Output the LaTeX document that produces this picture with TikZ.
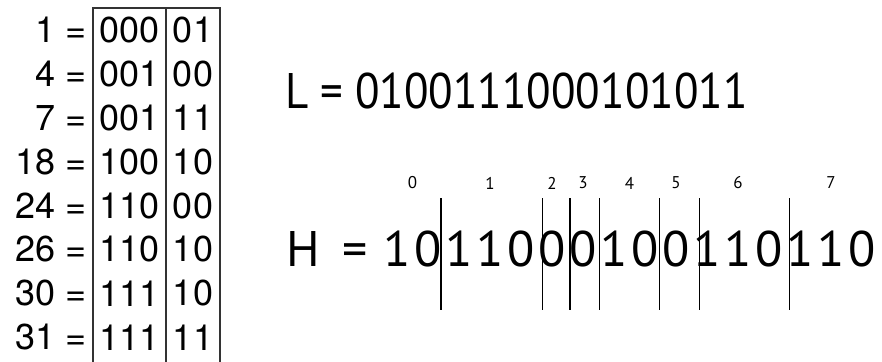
\documentclass[tikz,border=0pt]{standalone}
\usepackage{fontspec}
\setmainfont{TeX Gyre Heros}
\newfontfamily\bitfont{PT Sans}
\usetikzlibrary{calc}

\tikzset{
    tabtext/.style={font=\fontsize{36}{36}\selectfont, inner sep=0pt},
    bittext/.style={font=\bitfont\fontsize{50}{50}\selectfont, inner sep=0pt},
    idxtext/.style={font=\bitfont\fontsize{17}{17}\selectfont, inner sep=0pt},
    boxline/.style={draw=black!80, line width=1.1pt},
}

\begin{document}
\begin{tikzpicture}[x=1pt, y=-1pt]
    \useasboundingbox (0,0) rectangle (882,361);
    \clip (0,0) rectangle (882,361);

    % the eight values, split into high and low bits
    \foreach \v/\hi/\lo [count=\r from 0] in {1/000/01, 4/001/00, 7/001/11, 18/100/10, 24/110/00, 26/110/10, 30/111/10, 31/111/11} {
        \node[tabtext, anchor=east] (val\r) at (87, {30+43.9*\r}) {\v{} =};
        \node[tabtext] (hi\r) at (129.5, {30+43.9*\r}) {\hi};
        \node[tabtext] (lo\r) at (193, {30+43.9*\r}) {\lo};
    }
    \draw[boxline] (93,8) rectangle (220,380);
    \draw[boxline] (166,8) -- (166,380);

    % low bits written out
    \node[bittext, anchor=west] (lbits) at (285, 90.5) {\scalebox{0.9}[1]{L = 0100111000101011}};

    % high bits in unary, one digit per node
    \node[bittext, anchor=west] (hname) at (286, 248.5) {H \hspace{9pt}=};
    \foreach \b [count=\i from 0] in {1,0,1,1,0,0,0,1,0,0,1,1,0,1,1,0}
        \node[bittext] (h\i) at ({397+31*\i}, 248.5) {\b};

    % bucket separators
    \foreach \a/\c/\f/\w in {1/2/0.42/1.8, 4/5/0.68/1.1, 5/6/0.58/1.1, 6/7/0.52/1.1, 8/9/0.48/1.1, 9/10/0.75/1.1, 12/13/0.65/1.1}
        \draw[line width=\w pt] ($(h\a)!\f!(h\c)$) ++(0,-50.5) -- ++(0,112);

    % bucket numbers
    \foreach \a/\c [count=\k from 0] in {0/1, 2/4, 5/5, 6/6, 7/8, 9/9, 10/12, 13/15}
        \node[idxtext] (bkt\k) at ($(h\a)!0.5!(h\c) + (0,-65.5)$) {\k};
\end{tikzpicture}
\end{document}
